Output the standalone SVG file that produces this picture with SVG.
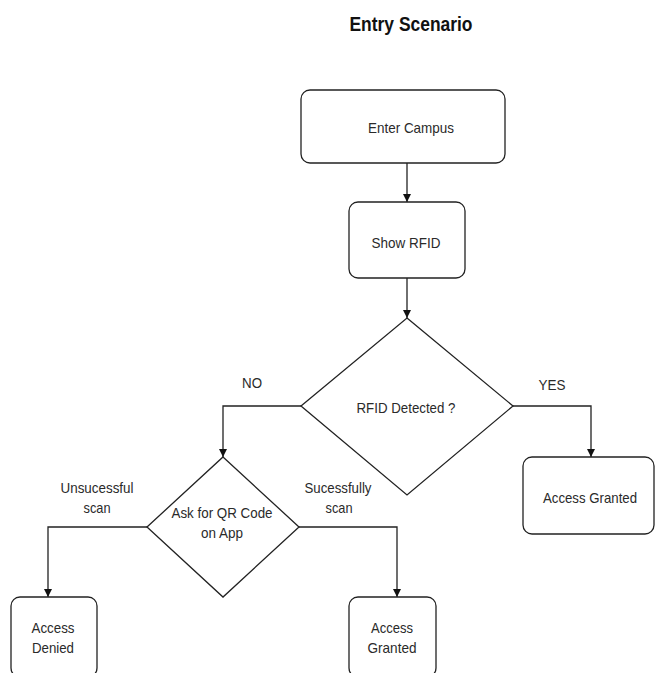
<svg xmlns="http://www.w3.org/2000/svg" width="655" height="673" viewBox="0 0 655 673">
<defs>
<style>
.box{fill:#fff;stroke:#222;stroke-width:1.3}
.ln{fill:none;stroke:#222;stroke-width:1.3}
text{font-family:"Liberation Sans",Arial,sans-serif;font-size:15px;fill:#2a2a2a;text-anchor:middle}
.title{font-size:21px;font-weight:bold;fill:#111}
</style>
<marker id="ah" viewBox="0 0 10 10" refX="10" refY="5" markerWidth="8" markerHeight="8" markerUnits="userSpaceOnUse" orient="auto">
<path d="M0,0 L10,5 L0,10 Z" fill="#111"/>
</marker>
</defs>
<rect width="655" height="673" fill="#fff"/>
<text class="title" x="411" y="31" textLength="123" lengthAdjust="spacingAndGlyphs">Entry Scenario</text>
<g id="connectors">
<path class="ln" d="M407,163 V202" marker-end="url(#ah)"/>
<path class="ln" d="M407,278 V318" marker-end="url(#ah)"/>
<path class="ln" d="M301,406 H223 V457" marker-end="url(#ah)"/>
<path class="ln" d="M513,406 H591 V457" marker-end="url(#ah)"/>
<path class="ln" d="M147,527 H48 V597" marker-end="url(#ah)"/>
<path class="ln" d="M299,527 H397 V597" marker-end="url(#ah)"/>
<text x="252" y="388" textLength="20" lengthAdjust="spacingAndGlyphs">NO</text>
<text x="552" y="390" textLength="27" lengthAdjust="spacingAndGlyphs">YES</text>
<text x="97" y="493" textLength="73" lengthAdjust="spacingAndGlyphs">Unsucessful</text>
<text x="97" y="513" textLength="27" lengthAdjust="spacingAndGlyphs">scan</text>
<text x="338" y="493" textLength="67" lengthAdjust="spacingAndGlyphs">Sucessfully</text>
<text x="339" y="513" textLength="27" lengthAdjust="spacingAndGlyphs">scan</text>
</g>
<g id="enter">
<rect class="box" x="301" y="90" width="204" height="73" rx="9"/>
<text x="411" y="133" textLength="86" lengthAdjust="spacingAndGlyphs">Enter Campus</text>
</g>
<g id="show">
<rect class="box" x="349" y="202" width="116" height="76" rx="9"/>
<text x="406" y="248" textLength="69" lengthAdjust="spacingAndGlyphs">Show RFID</text>
</g>
<g id="detected">
<polygon class="box" points="407,318 513,406 407,495 301,406"/>
<text x="406" y="413" textLength="99" lengthAdjust="spacingAndGlyphs">RFID Detected ?</text>
</g>
<g id="granted1">
<rect class="box" x="523" y="457" width="131" height="77" rx="9"/>
<text x="590" y="503" textLength="94" lengthAdjust="spacingAndGlyphs">Access Granted</text>
</g>
<g id="qr">
<polygon class="box" points="223,457 299,527 223,597 147,527"/>
<text x="222" y="518" textLength="101" lengthAdjust="spacingAndGlyphs">Ask for QR Code</text>
<text x="222" y="538" textLength="42" lengthAdjust="spacingAndGlyphs">on App</text>
</g>
<g id="denied">
<rect class="box" x="11" y="597" width="86" height="80" rx="9"/>
<text x="53" y="633" textLength="43" lengthAdjust="spacingAndGlyphs">Access</text>
<text x="53" y="653" textLength="42" lengthAdjust="spacingAndGlyphs">Denied</text>
</g>
<g id="granted2">
<rect class="box" x="349" y="597" width="87" height="80" rx="9"/>
<text x="392" y="633" textLength="42" lengthAdjust="spacingAndGlyphs">Access</text>
<text x="392" y="653" textLength="49" lengthAdjust="spacingAndGlyphs">Granted</text>
</g>
</svg>
